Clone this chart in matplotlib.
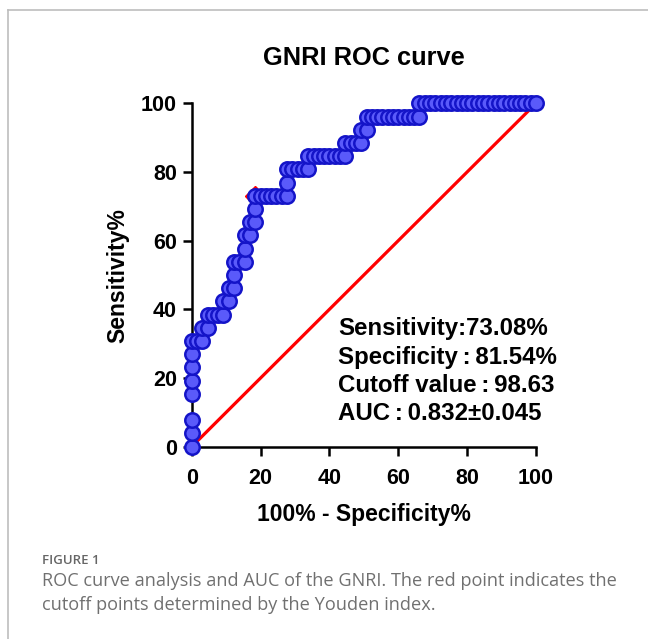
import matplotlib
matplotlib.use("Agg")
import matplotlib.pyplot as plt
from matplotlib.lines import Line2D

# ROC points (100% - Specificity%, Sensitivity%)
fpr = [0, 0, 0, 0, 0, 0, 0, 0, 1.54, 3.08, 3.08, 4.62, 4.62, 6.15, 7.69, 9.23,
       9.23, 10.77, 10.77, 12.31, 12.31, 12.31, 13.85, 15.38, 15.38, 15.38, 16.92,
       16.92, 18.46, 18.46, 18.46, 20.00, 21.54, 23.08, 24.62, 26.15, 27.69, 27.69,
       27.69, 29.23, 30.77, 32.31, 33.85, 33.85, 35.38, 36.92, 38.46, 40.00, 41.54,
       43.08, 44.62, 44.62, 46.15, 47.69, 49.23, 49.23, 50.77, 50.77, 52.31, 53.85,
       55.38, 56.92, 58.46, 60.00, 61.54, 63.08, 64.62, 66.15, 66.15, 67.69, 69.23,
       70.77, 72.31, 73.85, 75.38, 76.92, 78.46, 80.00, 81.54, 83.08, 84.62, 86.15,
       87.69, 89.23, 90.77, 92.31, 93.85, 95.38, 96.92, 98.46, 100.0]
sens = [0, 3.85, 7.69, 15.38, 19.23, 23.08, 26.92, 30.77, 30.77, 30.77, 34.62, 34.62,
        38.46, 38.46, 38.46, 38.46, 42.31, 42.31, 46.15, 46.15, 50.00, 53.85, 53.85,
        53.85, 57.69, 61.54, 61.54, 65.38, 65.38, 69.23, 73.08, 73.08, 73.08, 73.08,
        73.08, 73.08, 73.08, 76.92, 80.77, 80.77, 80.77, 80.77, 80.77, 84.62, 84.62,
        84.62, 84.62, 84.62, 84.62, 84.62, 84.62, 88.46, 88.46, 88.46, 88.46, 92.31,
        92.31, 96.15, 96.15, 96.15, 96.15, 96.15, 96.15, 96.15, 96.15, 96.15, 96.15,
        96.15, 100, 100, 100, 100, 100, 100, 100, 100, 100, 100, 100, 100, 100, 100,
        100, 100, 100, 100, 100, 100, 100, 100, 100]
ref_x = [0, 100]
ref_y = [0, 100]
cutoff_x = [18.46]
cutoff_y = [73.08]
ticks = [0, 20, 40, 60, 80, 100]
stats_lines = ["Sensitivity:73.08%", "Specificity\u2009:\u200981.54%",
               "Cutoff value\u2009:\u200998.63", "AUC\u2009:\u20090.832\u00b10.045"]

W, H = 648, 639
fig = plt.figure(figsize=(W / 100, H / 100), dpi=100)
fig.patch.set_facecolor("white")

# outer frame lines (top & left)
fig.add_artist(Line2D([8 / W, 1.0], [1 - 10 / H, 1 - 10 / H], color="#bdbdbd", lw=1.2,
                      transform=fig.transFigure))
fig.add_artist(Line2D([8 / W, 8 / W], [0, 1 - 10 / H], color="#bdbdbd", lw=1.2,
                      transform=fig.transFigure))

x0, x1 = 191.7, 536.0
y0, y1 = 446.7, 103.3
ax = fig.add_axes([x0 / W, 1 - y0 / H, (x1 - x0) / W, (y0 - y1) / H])
ax.set_xlim(0, 100)
ax.set_ylim(0, 100)

fam = ["Liberation Sans", "DejaVu Sans"]
bold = dict(family=fam, weight="bold")

ax.plot(ref_x, ref_y, color="#ff0000", lw=2.3, zorder=2, clip_on=False)
ax.plot(cutoff_x, cutoff_y, marker="D", ms=10, color="#ff0000", ls="none",
        zorder=3, clip_on=False)
ax.plot(fpr, sens, ls="none", marker="o", ms=10.4, mfc="#5a5afa", mec="#1414c8",
        mew=1.8, zorder=4, clip_on=False)

for s in ["top", "right"]:
    ax.spines[s].set_visible(False)
for s in ["left", "bottom"]:
    ax.spines[s].set_linewidth(1.8)
ax.set_xticks(ticks)
ax.set_yticks(ticks)
ax.tick_params(direction="out", length=6.5, width=1.8, pad=4, labelsize=15.5)
ax.tick_params(axis="x", pad=9)
for lab in ax.get_xticklabels() + ax.get_yticklabels():
    lab.set_fontfamily(fam)
    lab.set_fontweight("bold")

fig.text((x0 + x1) / 2 / W, 1 - 58 / H, "GNRI ROC curve", ha="center", va="center",
         fontsize=18.3, **bold)
fig.text((x0 + x1) / 2 / W, 1 - 515 / H, "100% - Specificity%", ha="center",
         va="center", fontsize=16.5, **bold)
fig.text(118 / W, 1 - 276 / H, "Sensitivity%", ha="center", va="center",
         rotation=90, fontsize=16.5, **bold)

ys = [329, 357.5, 386, 414]
for t, yy in zip(stats_lines, ys):
    fig.text(338 / W, 1 - yy / H, t, ha="left", va="center", fontsize=17.3, **bold)

fig.text(42 / W, 1 - 560 / H, "FIGURE 1", ha="left", va="center", fontsize=9.5,
         color="#666666", family="Open Sans", weight="semibold")
fig.text(42 / W, 1 - 581 / H,
         "ROC curve analysis and AUC of the GNRI. The red point indicates the",
         ha="left", va="center", fontsize=13.1, color="#707070", family="Open Sans")
fig.text(42 / W, 1 - 605 / H, "cutoff points determined by the Youden index.",
         ha="left", va="center", fontsize=13.1, color="#707070", family="Open Sans")

fig.savefig("out.png", dpi=100)
